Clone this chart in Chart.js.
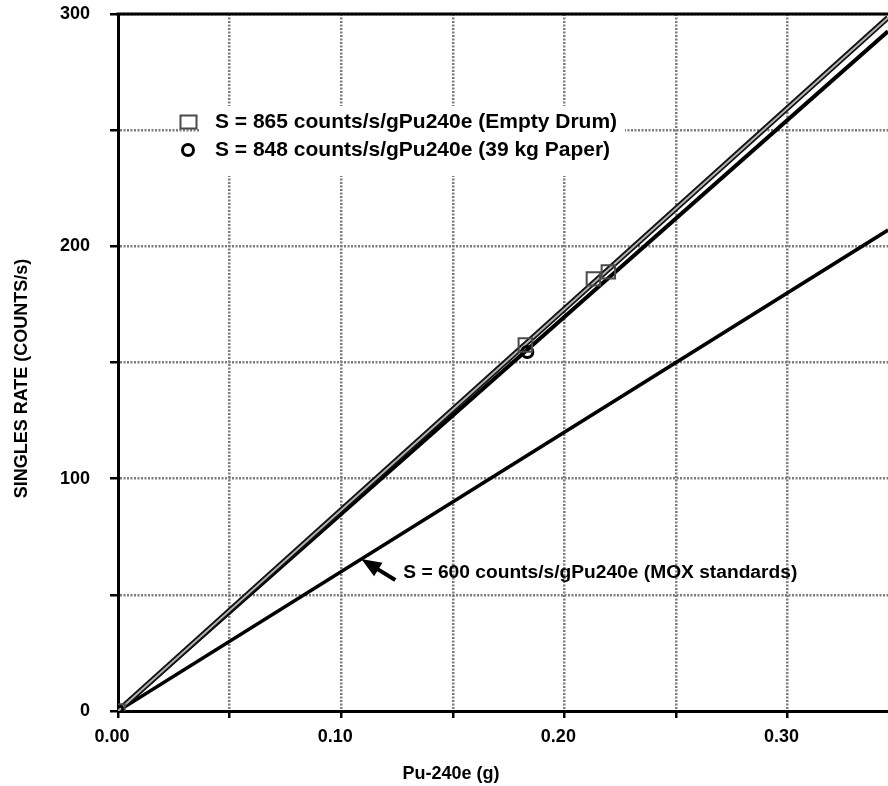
<!DOCTYPE html>
<html>
<head>
<meta charset="utf-8">
<title>Singles rate vs Pu-240e</title>
<script src="https://cdn.jsdelivr.net/npm/chart.js@4.4.1/dist/chart.umd.min.js"></script>
<style>
  body { margin: 0; background: #fff; }
  canvas { display: block; }
</style>
</head>
<body>
<canvas id="singlesChart" width="888" height="786"></canvas>
<script>
// measured points
var seriesLabels = ["S = 865 counts/s/gPu240e (Empty Drum)", "S = 848 counts/s/gPu240e (39 kg Paper)"];
var emptyDrumMass = [0, 0.1825, 0.213, 0.2197];
var emptyDrumRate = [0, 157.5, 186, 189];
var paperMass = [0, 0.1834];
var paperRate = [0, 154.5];

// calibration slopes (counts/s per g Pu240e) and the mass range they are drawn over
var fitSlopes = [865, 848, 600];
var fitRange = [0, 0.345];
var moxLabel = "S = 600 counts/s/gPu240e (MOX standards)";
var moxArrowAt = 0.109;

// axis ticks and titles
var xTickValues = [0, 0.05, 0.10, 0.15, 0.20, 0.25, 0.30];
var yTickValues = [0, 50, 100, 150, 200, 250, 300];
var xAxisTitle = 'Pu-240e (g)';
var yAxisTitle = 'SINGLES RATE (COUNTS/s)';

function points(xs, ys) {
  return xs.map(function(x, i) { return { x: x, y: ys[i] }; });
}
function fitLine(slope) {
  return fitRange.map(function(x) { return { x: x, y: slope * x }; });
}

Chart.defaults.font.family = '"Liberation Sans", Arial, Helvetica, sans-serif';
Chart.defaults.font.weight = 'bold';
Chart.defaults.font.size = 18;
Chart.defaults.color = '#000';

var gridGray = '#7d7d7d';

// legend box, top frame line, axis titles and the MOX arrow note
var notes = {
  id: 'notes',
  beforeDatasetsDraw: function(chart) {
    var ctx = chart.ctx, a = chart.chartArea;
    ctx.save();
    ctx.fillStyle = '#fff';
    ctx.fillRect(a.left + 82, a.top + 92, 425, 70);
    ctx.restore();
  },
  afterDatasetsDraw: function(chart) {
    var ctx = chart.ctx, a = chart.chartArea;
    ctx.save();
    ctx.strokeStyle = '#000';
    ctx.lineWidth = 3;
    ctx.beginPath();
    ctx.moveTo(a.left - 1.5, a.top);
    ctx.lineTo(a.right, a.top);
    ctx.stroke();
    ctx.restore();
  },
  afterDraw: function(chart) {
    var ctx = chart.ctx, a = chart.chartArea;
    var xs = chart.scales.x, ys = chart.scales.y;
    ctx.save();
    ctx.fillStyle = '#000';
    ctx.font = 'bold 18px "Liberation Sans", Arial, sans-serif';
    ctx.textAlign = 'center';
    ctx.textBaseline = 'middle';

    // x axis title, centred under the 0 - 0.30 part of the axis
    ctx.fillText(xAxisTitle, a.left + 333, a.bottom + 63);

    // y axis title, sitting a little below the middle of the axis
    ctx.save();
    ctx.translate(a.left - 96, (a.top + a.bottom) / 2 + 16);
    ctx.rotate(-Math.PI / 2);
    ctx.fillText(yAxisTitle, 0, 0);
    ctx.restore();

    // legend
    var lx = a.left + 70, ly = a.top + 108;
    ctx.strokeStyle = '#4a4a4a';
    ctx.lineWidth = 2;
    ctx.strokeRect(lx - 7.5, ly - 6.5, 16, 13);
    ctx.strokeStyle = '#000';
    ctx.lineWidth = 3;
    ctx.beginPath();
    ctx.arc(lx, ly + 28, 5.5, 0, Math.PI * 2);
    ctx.stroke();

    ctx.font = 'bold 21px "Liberation Sans", Arial, sans-serif';
    ctx.textAlign = 'left';
    ctx.fillText(seriesLabels[0], lx + 27, ly);
    ctx.fillText(seriesLabels[1], lx + 27, ly + 28);

    // arrow to the MOX line
    var tx = xs.getPixelForValue(moxArrowAt);
    var ty = ys.getPixelForValue(fitSlopes[2] * moxArrowAt);
    var ang = Math.atan2(21, 34);
    ctx.lineWidth = 4;
    ctx.beginPath();
    ctx.moveTo(tx + 34, ty + 21);
    ctx.lineTo(tx + 12 * Math.cos(ang), ty + 12 * Math.sin(ang));
    ctx.stroke();
    ctx.beginPath();
    ctx.moveTo(tx, ty);
    ctx.lineTo(tx + 20 * Math.cos(ang) - 8 * Math.sin(ang), ty + 20 * Math.sin(ang) + 8 * Math.cos(ang));
    ctx.lineTo(tx + 20 * Math.cos(ang) + 8 * Math.sin(ang), ty + 20 * Math.sin(ang) - 8 * Math.cos(ang));
    ctx.closePath();
    ctx.fill();

    ctx.font = 'bold 19.2px "Liberation Sans", Arial, sans-serif';
    ctx.fillText(moxLabel, tx + 42, ty + 14);
    ctx.restore();
  }
};

var ctx = document.getElementById('singlesChart');

new Chart(ctx, {
  type: 'scatter',
  data: {
    datasets: [
      {
        label: seriesLabels[0],
        data: points(emptyDrumMass, emptyDrumRate),
        pointStyle: 'rect',
        pointRadius: 9.5,
        pointBorderWidth: 2,
        pointBorderColor: '#4a4a4a',
        pointBackgroundColor: 'rgba(0,0,0,0)',
        order: 0
      },
      {
        label: seriesLabels[1],
        data: points(paperMass, paperRate),
        pointStyle: 'circle',
        pointRadius: 5.5,
        pointBorderWidth: 3,
        pointBorderColor: '#000',
        pointBackgroundColor: 'rgba(0,0,0,0)',
        order: 1
      },
      {
        label: 'fit 865 inner',
        data: fitLine(fitSlopes[0]),
        showLine: true,
        borderColor: '#b4b4b4',
        borderWidth: 2,
        pointRadius: 0,
        order: 2
      },
      {
        label: 'fit 865',
        data: fitLine(fitSlopes[0]),
        showLine: true,
        borderColor: '#111',
        borderWidth: 5.5,
        pointRadius: 0,
        order: 3
      },
      {
        label: 'fit 848',
        data: fitLine(fitSlopes[1]),
        showLine: true,
        borderColor: '#000',
        borderWidth: 4,
        pointRadius: 0,
        order: 4
      },
      {
        label: 'fit 600',
        data: fitLine(fitSlopes[2]),
        showLine: true,
        borderColor: '#000',
        borderWidth: 3.5,
        pointRadius: 0,
        order: 5
      }
    ]
  },
  options: {
    responsive: false,
    animation: false,
    layout: { autoPadding: false, padding: { top: 14, left: 0, right: 0, bottom: 0 } },
    plugins: {
      legend: { display: false },
      tooltip: { enabled: false }
    },
    scales: {
      x: {
        type: 'linear',
        min: fitRange[0],
        max: fitRange[1],
        afterBuildTicks: function(scale) {
          scale.ticks = xTickValues.map(function(v) { return { value: v }; });
        },
        afterFit: function(scale) {
          scale.height = 75;
          scale.paddingRight = 0;
        },
        ticks: {
          autoSkip: false,
          maxRotation: 0,
          padding: 8,
          labelOffset: -6,
          callback: function(v) {
            return Math.round(v * 100) % 10 === 0 ? v.toFixed(2) : '';
          }
        },
        grid: {
          color: function(c) { return c.tick && c.tick.value === 0 ? 'rgba(0,0,0,0)' : gridGray; },
          lineWidth: 2.5,
          tickColor: '#000',
          tickWidth: 2.5,
          tickLength: 7
        },
        border: { color: '#000', width: 3, dash: [2, 1.5] }
      },
      y: {
        type: 'linear',
        min: 0,
        max: 300,
        afterBuildTicks: function(scale) {
          scale.ticks = yTickValues.map(function(v) { return { value: v }; });
        },
        afterFit: function(scale) {
          scale.width = 118;
          scale.paddingTop = 0;
          scale.paddingBottom = 0;
        },
        ticks: {
          padding: 20,
          callback: function(v) { return v % 100 === 0 ? String(v) : ''; }
        },
        grid: {
          color: function(c) { return c.tick && c.tick.value === 0 ? 'rgba(0,0,0,0)' : gridGray; },
          lineWidth: 2.5,
          tickColor: '#000',
          tickWidth: 2.5,
          tickLength: 8
        },
        border: { color: '#000', width: 3, dash: [2, 1.5] }
      }
    }
  },
  plugins: [notes]
});
</script>
</body>
</html>
